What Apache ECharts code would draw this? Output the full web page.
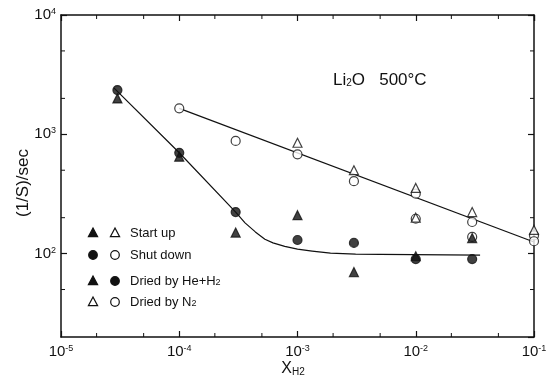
<!DOCTYPE html>
<html><head><meta charset="utf-8">
<script src="https://cdn.jsdelivr.net/npm/echarts@6/dist/echarts.min.js"></script>
<style>html,body{margin:0;padding:0;background:#fff}#c{width:552px;height:381px}</style>
</head><body><div id="c"></div>
<script>
// axis ranges and ticks
const xMin = 1e-5, xMax = 1e-1, yMin = 20, yMax = 1e4;
const xMinorTicks = [2e-5, 5e-5, 2e-4, 5e-4, 2e-3, 5e-3, 2e-2, 5e-2];
const yMinorTicks = [50, 200, 500, 2000, 5000];

// data: [X_H2, (1/S)/sec]
const startUpHe  = [[3e-5, 2000], [1e-4, 650], [3e-4, 150], [1e-3, 210], [3e-3, 70], [1e-2, 95], [3e-2, 135]];
const shutDownHe = [[3e-5, 2350], [1e-4, 700], [3e-4, 223], [1e-3, 130], [3e-3, 123], [1e-2, 90], [3e-2, 90]];
const startUpN2  = [[1e-3, 850], [3e-3, 500], [1e-2, 355], [1e-2, 200], [3e-2, 223], [1e-1, 158]];
const shutDownN2 = [[1e-4, 1650], [3e-4, 880], [1e-3, 680], [3e-3, 405], [1e-2, 318], [1e-2, 196], [3e-2, 184], [3e-2, 138], [1e-1, 142], [1e-1, 127]];
// fitted curves
const n2Fit = [[1e-4, 1650], [1e-1, 125]];
const heFit = [[2.8e-5, 2450], [1e-4, 700], [3e-4, 223], [3.6e-4, 181], [4.4e-4, 152], [5.3e-4, 132], [6.2e-4, 123],
               [7.8e-4, 115], [1e-3, 109], [1.33e-3, 105], [1.9e-3, 101], [3.1e-3, 99], [5e-3, 98.5], [3.5e-2, 97]];

const FONT = "'Liberation Sans', Arial, sans-serif";
const INK = '#111';

function powLabel(v) {
  const e = Math.log10(v), r = Math.round(e);
  if (Math.abs(e - r) > 1e-6) return '';
  return '{b|10}{s|' + r + '}';
}
const labelRich = {
  b: { fontSize: 15, fontFamily: FONT, color: INK, lineHeight: 16 },
  s: { fontSize: 9, fontFamily: FONT, color: INK, verticalAlign: 'top', lineHeight: 9 }
};

function tickLine(x1, y1, x2, y2) {
  return { type: 'line', shape: { x1, y1, x2, y2 }, style: { stroke: INK, lineWidth: 1 } };
}

const chart = echarts.init(document.getElementById('c'), null, { renderer: 'canvas' });

function tri(cx, cy, filled) {
  return { type: 'polygon', shape: { points: [[cx, cy - 5], [cx - 4.6, cy + 3.6], [cx + 4.6, cy + 3.6]] },
    style: { fill: filled ? INK : '#fff', stroke: INK, lineWidth: 1.2 } };
}
function circ(cx, cy, filled) {
  return { type: 'circle', shape: { cx, cy, r: 4.3 }, style: { fill: filled ? INK : '#fff', stroke: INK, lineWidth: 1.2 } };
}
function ltext(x, y, t) {
  return { type: 'text', x, y, style: { text: t, fontSize: 13, fontFamily: FONT, fill: INK, verticalAlign: 'middle',
    rich: { n: { fontSize: 13, fontFamily: FONT, fill: INK }, sub: { fontSize: 9, fontFamily: FONT, fill: INK, verticalAlign: 'bottom' } } } };
}

const symStyle = (filled) => ({ color: filled ? INK : '#fff', borderColor: INK, borderWidth: 1.2 });

chart.setOption({
  animation: false,
  backgroundColor: '#fff',
  grid: { left: 61, right: 18, top: 15, bottom: 44 },
  xAxis: [
    { type: 'log', logBase: 10, min: xMin, max: xMax, position: 'bottom',
      axisLine: { lineStyle: { color: INK, width: 1.5 } },
      axisTick: { inside: true, length: 6, lineStyle: { color: INK, width: 1.2 } },
      axisLabel: { formatter: powLabel, rich: labelRich, margin: 7 },
      splitLine: { show: false } },
    { type: 'log', logBase: 10, min: xMin, max: xMax, position: 'top',
      axisLine: { lineStyle: { color: INK, width: 1.5 } },
      axisTick: { inside: true, length: 6, lineStyle: { color: INK, width: 1.2 } },
      axisLabel: { show: false }, splitLine: { show: false } }
  ],
  yAxis: [
    { type: 'log', logBase: 10, min: yMin, max: yMax, position: 'left',
      axisLine: { lineStyle: { color: INK, width: 1.5 } },
      axisTick: { inside: true, length: 6, lineStyle: { color: INK, width: 1.2 } },
      axisLabel: { formatter: powLabel, rich: labelRich, margin: 5, showMinLabel: false },
      splitLine: { show: false } },
    { type: 'log', logBase: 10, min: yMin, max: yMax, position: 'right',
      axisLine: { lineStyle: { color: INK, width: 1.5 } },
      axisTick: { inside: true, length: 6, lineStyle: { color: INK, width: 1.2 } },
      axisLabel: { show: false }, splitLine: { show: false } }
  ],
  series: [
    { type: 'custom', silent: true, z: 3, data: xMinorTicks.map(v => [v, yMin]),
      renderItem: (params, api) => {
        const x = api.value(0);
        const p0 = api.coord([x, yMin]), p1 = api.coord([x, yMax]);
        return { type: 'group', children: [tickLine(p0[0], p0[1], p0[0], p0[1] - 4), tickLine(p1[0], p1[1], p1[0], p1[1] + 4)] };
      } },
    { type: 'custom', silent: true, z: 3, data: yMinorTicks.map(v => [xMin, v]),
      renderItem: (params, api) => {
        const y = api.value(1);
        const p0 = api.coord([xMin, y]), p1 = api.coord([xMax, y]);
        return { type: 'group', children: [tickLine(p0[0], p0[1], p0[0] + 4, p0[1]), tickLine(p1[0], p1[1], p1[0] - 4, p1[1])] };
      } },
    { type: 'line', data: n2Fit, showSymbol: false, silent: true, z: 2, lineStyle: { color: INK, width: 1.2 } },
    { type: 'line', data: heFit, showSymbol: false, silent: true, z: 2, smooth: false, lineStyle: { color: INK, width: 1.2, join: 'round' } },
    { name: 'Shut down / N2', type: 'scatter', data: shutDownN2, symbol: 'circle', symbolSize: 9, z: 4, itemStyle: symStyle(false) },
    { name: 'Start up / N2', type: 'scatter', data: startUpN2, symbol: 'triangle', symbolSize: 9, z: 5, itemStyle: symStyle(false) },
    { name: 'Shut down / He+H2', type: 'scatter', data: shutDownHe, symbol: 'circle', symbolSize: 9, z: 6, itemStyle: symStyle(true) },
    { name: 'Start up / He+H2', type: 'scatter', data: startUpHe, symbol: 'triangle', symbolSize: 9, z: 7, itemStyle: symStyle(true) }
  ],
  graphic: [
    { type: 'text', x: 23, y: 183, rotation: Math.PI / 2, style: { text: '(1/S)/sec', fontSize: 17, fontFamily: FONT, fill: INK, align: 'center', verticalAlign: 'middle' } },
    { type: 'text', x: 293, y: 369, style: { text: '{x|X}{h|H2}', align: 'center', verticalAlign: 'middle',
      rich: { x: { fontSize: 16, fontFamily: FONT, fill: INK }, h: { fontSize: 10, fontFamily: FONT, fill: INK, verticalAlign: 'bottom' } } } },
    { type: 'text', x: 333, y: 80, style: { text: '{a|Li}{s|2}{a|O}{a|   500°C}', verticalAlign: 'middle',
      rich: { a: { fontSize: 17, fontFamily: FONT, fill: INK }, s: { fontSize: 10, fontFamily: FONT, fill: INK, verticalAlign: 'bottom' } } } },
    tri(93, 233, true), tri(115, 233, false), ltext(130, 233, 'Start up'),
    circ(93, 255, true), circ(115, 255, false), ltext(130, 255, 'Shut down'),
    tri(93, 281, true), circ(115, 281, true), ltext(130, 281, '{n|Dried by He+H}{sub|2}'),
    tri(93, 302, false), circ(115, 302, false), ltext(130, 302, '{n|Dried by N}{sub|2}')
  ]
});
</script>
</body></html>
